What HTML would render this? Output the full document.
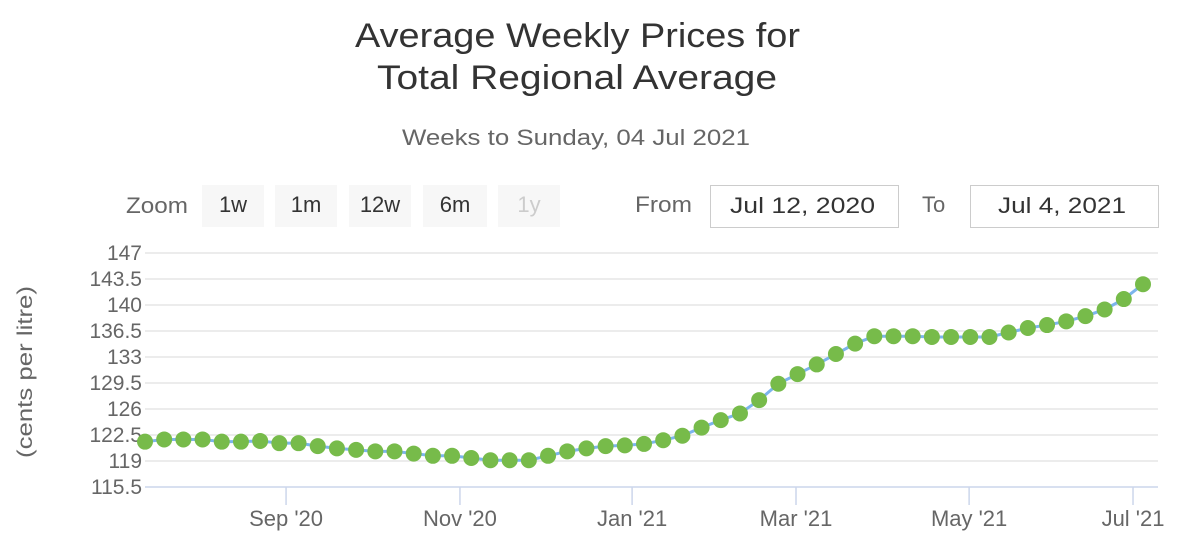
<!DOCTYPE html>
<html><head><meta charset="utf-8"><style>
body{margin:0;background:#fff;font-family:"Liberation Sans",sans-serif;}
svg text{font-family:"Liberation Sans",sans-serif;}
</style></head><body>
<svg id="c" width="1177" height="548" xmlns="http://www.w3.org/2000/svg">
<text x="355" y="47" textLength="445" lengthAdjust="spacingAndGlyphs" font-size="34" fill="#333">Average Weekly Prices for</text>
<text x="377" y="89" textLength="400" lengthAdjust="spacingAndGlyphs" font-size="34" fill="#333">Total Regional Average</text>
<text x="402" y="145" textLength="348" lengthAdjust="spacingAndGlyphs" font-size="22" fill="#666">Weeks to Sunday, 04 Jul 2021</text>
<text x="126" y="213" textLength="62" lengthAdjust="spacingAndGlyphs" font-size="22" fill="#666">Zoom</text>
<g><rect x="202" y="185" width="62" height="42" fill="#f7f7f7"/><text x="233" y="212" text-anchor="middle" font-size="22" fill="#333">1w</text></g>
<g><rect x="275" y="185" width="62" height="42" fill="#f7f7f7"/><text x="306" y="212" text-anchor="middle" font-size="22" fill="#333">1m</text></g>
<g><rect x="349" y="185" width="62" height="42" fill="#f7f7f7"/><text x="380" y="212" text-anchor="middle" font-size="22" fill="#333">12w</text></g>
<g><rect x="423" y="185" width="64" height="42" fill="#f7f7f7"/><text x="455" y="212" text-anchor="middle" font-size="22" fill="#333">6m</text></g>
<g><rect x="498" y="185" width="62" height="42" fill="#f7f7f7"/><text x="529" y="212" text-anchor="middle" font-size="22" fill="#ccc">1y</text></g>
<text x="635" y="212" textLength="57" lengthAdjust="spacingAndGlyphs" font-size="22" fill="#666">From</text>
<g><rect x="710.5" y="185.5" width="188" height="42" fill="#fff" stroke="#ccc"/><text x="730" y="213" textLength="145" lengthAdjust="spacingAndGlyphs" font-size="22" fill="#333">Jul 12, 2020</text></g>
<text x="922" y="212" font-size="22" fill="#666">To</text>
<g><rect x="970.5" y="185.5" width="188" height="42" fill="#fff" stroke="#ccc"/><text x="998" y="213" textLength="128" lengthAdjust="spacingAndGlyphs" font-size="22" fill="#333">Jul 4, 2021</text></g>
<text transform="translate(32,372) rotate(-90)" text-anchor="middle" textLength="172" lengthAdjust="spacingAndGlyphs" font-size="21" fill="#666">(cents per litre)</text>
<g id="grid"></g><g id="xaxis"></g><g id="series"></g>
</svg>
<script>
const yTicks=[147,143.5,140,136.5,133,129.5,126,122.5,119,115.5];
const xTickLabels=["Sep '20","Nov '20","Jan '21","Mar '21","May '21","Jul '21"];
const xTickWeeks=[7.35,16.41,25.38,33.92,42.94,51.48];
const prices=[121.6,121.9,121.9,121.9,121.6,121.6,121.7,121.4,121.4,121.0,120.7,120.5,120.3,120.3,120.0,119.7,119.7,119.4,119.1,119.1,119.1,119.7,120.3,120.7,121.0,121.1,121.3,121.8,122.4,123.5,124.5,125.4,127.2,129.4,130.7,132.0,133.4,134.8,135.8,135.8,135.8,135.7,135.7,135.7,135.7,136.3,136.9,137.3,137.8,138.5,139.4,140.8,142.8];
const NS="http://www.w3.org/2000/svg";
const x0=145,x1=1143;
function xs(i){return x0+(x1-x0)*i/52;}
function ys(v){return 253+(147-v)*(487-253)/(147-115.5);}
function mk(t,a,p){const e=document.createElementNS(NS,t);for(const k in a)e.setAttribute(k,a[k]);p.appendChild(e);return e;}
const grid=document.getElementById('grid');
yTicks.forEach(v=>{
 const l=mk('line',{x1:145,x2:1158,y1:ys(v),y2:ys(v),stroke:v===115.5?'#ccd6eb':'#e6e6e6','stroke-width':1.5},grid);
 
 
 const t=mk('text',{x:142,y:ys(v)+7,'text-anchor':'end','font-size':21,fill:'#666'},grid);
 t.textContent=v;
 
 
});
const xa=document.getElementById('xaxis');
xTickLabels.forEach((lab,i)=>{
 const x=xs(xTickWeeks[i]);
 const l=mk('line',{x1:x,x2:x,y1:487,y2:505,stroke:'#ccd6eb','stroke-width':1.5},xa);
 
 
 const t=mk('text',{x:x,y:526,'text-anchor':'middle','font-size':22,fill:'#666'},xa);
 t.textContent=lab;
 
 
});
const s=document.getElementById('series');
const line=mk('polyline',{points:prices.map((v,i)=>xs(i)+','+ys(v)).join(' '),fill:'none',stroke:'#7cb5ec','stroke-width':3},s);


prices.forEach((v,i)=>{
 const c=mk('circle',{cx:xs(i),cy:ys(v),r:8,fill:'#77bb4a'},s);
 
 
});
</script>
</body></html>
